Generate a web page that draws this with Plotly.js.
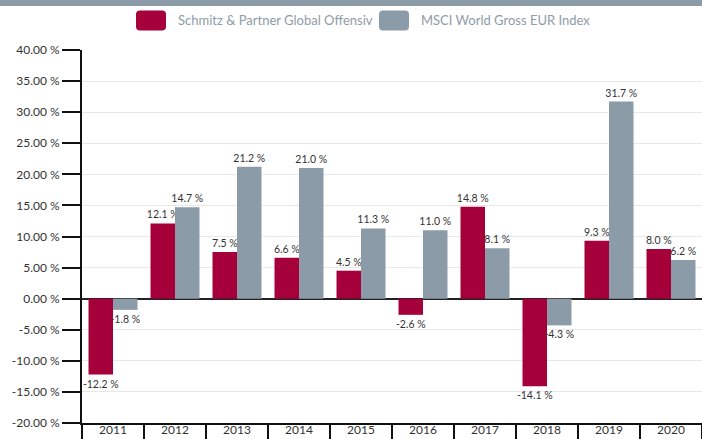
<!DOCTYPE html>
<html>
<head>
<meta charset="utf-8">
<script src="https://cdn.plot.ly/plotly-3.0.1.min.js"></script>
<style>html,body{margin:0;padding:0;background:#fff;}#chart{width:702px;height:439px;}</style>
</head>
<body>
<div id="chart"></div>
<script>
const years = ['2011','2012','2013','2014','2015','2016','2017','2018','2019','2020'];
const fundName = 'Schmitz & Partner Global Offensiv';
const indexName = 'MSCI World Gross EUR Index';
const fundValues = [-12.2, 12.1, 7.5, 6.6, 4.5, -2.6, 14.8, -14.1, 9.3, 8.0];
const indexValues = [-1.8, 14.7, 21.2, 21.0, 11.3, 11.0, 8.1, -4.3, 31.7, 6.2];
const yTickVals = [40, 35, 30, 25, 20, 15, 10, 5, 0, -5, -10, -15, -20];
const yTickText = ['40.00 %','35.00 %','30.00 %','25.00 %','20.00 %','15.00 %','10.00 %','5.00 %','0.00 %','-5.00 %','-10.00 %','-15.00 %','-20.00 %'];

const RED = '#a6003a';
const GRAY = '#8b9ba8';
const FONT = 'Lato, "Open Sans", sans-serif';

function labels(arr){ return arr.map(v => v.toFixed(1) + ' %'); }

const traces = [
  {type:'bar', name:fundName, x:years, y:fundValues, marker:{color:RED},
   text:labels(fundValues), textposition:'outside', cliponaxis:false, constraintext:'none',
   textfont:{family:FONT, size:10.5, color:'#333'}, hoverinfo:'x+y'},
  {type:'bar', name:indexName, x:years, y:indexValues, marker:{color:GRAY},
   text:labels(indexValues), textposition:'outside', cliponaxis:false, constraintext:'none',
   textfont:{family:FONT, size:10.5, color:'#333'}, hoverinfo:'x+y'}
];

// pixel -> paper helpers for legend decoration (plot area 82..702 x 50..423)
const px = p => (p - 82) / 620;
const py = p => (423 - p) / 373;
const rr = 'M -11,-10 L 11,-10 Q 15,-10 15,-6 L 15,6 Q 15,10 11,10 L -11,10 Q -15,10 -15,6 L -15,-6 Q -15,-10 -11,-10 Z';

const layout = {
  width:702, height:439,
  margin:{l:82, r:0, t:50, b:16, pad:0},
  paper_bgcolor:'#fff', plot_bgcolor:'#fff',
  font:{family:FONT, size:12, color:'#333'},
  showlegend:false,
  barmode:'group', bargap:0.21, bargroupgap:0,
  xaxis:{type:'category', tickson:'boundaries', ticks:'outside', ticklen:20, tickwidth:2, tickcolor:'#111',
         showline:true, linecolor:'#111', linewidth:2, showgrid:false,
         ticklabelstandoff:-5, tickfont:{family:FONT, size:12, color:'#333'}, fixedrange:true},
  yaxis:{range:[-20,40], tickvals:yTickVals, ticktext:yTickText, ticks:'outside', ticklen:18, tickwidth:2, tickcolor:'#111',
         showline:true, linecolor:'#111', linewidth:2, showgrid:true, gridcolor:'#e8e8e8', gridwidth:1,
         zeroline:true, zerolinecolor:'#222', zerolinewidth:2,
         tickfont:{family:FONT, size:12, color:'#333'}, fixedrange:true},
  shapes:[
    {type:'rect', xref:'paper', yref:'paper', x0:px(-10), x1:px(712), y0:py(6), y1:py(-5), fillcolor:GRAY, line:{width:0}, layer:'above'},
    {type:'path', xref:'paper', yref:'paper', xsizemode:'pixel', ysizemode:'pixel', xanchor:px(151), yanchor:py(20.5), path:rr, fillcolor:RED, line:{width:0}},
    {type:'path', xref:'paper', yref:'paper', xsizemode:'pixel', ysizemode:'pixel', xanchor:px(394), yanchor:py(20.5), path:rr, fillcolor:GRAY, line:{width:0}}
  ],
  annotations:[
    {xref:'paper', yref:'paper', x:px(176), y:py(20), xanchor:'left', yanchor:'middle', showarrow:false, text:fundName,
     font:{family:FONT, size:13, color:'#8e9ca8'}},
    {xref:'paper', yref:'paper', x:px(419), y:py(20), xanchor:'left', yanchor:'middle', showarrow:false, text:indexName,
     font:{family:FONT, size:13, color:'#8e9ca8'}}
  ]
};

Plotly.newPlot('chart', traces, layout, {displayModeBar:false, staticPlot:true});
</script>
</body>
</html>
